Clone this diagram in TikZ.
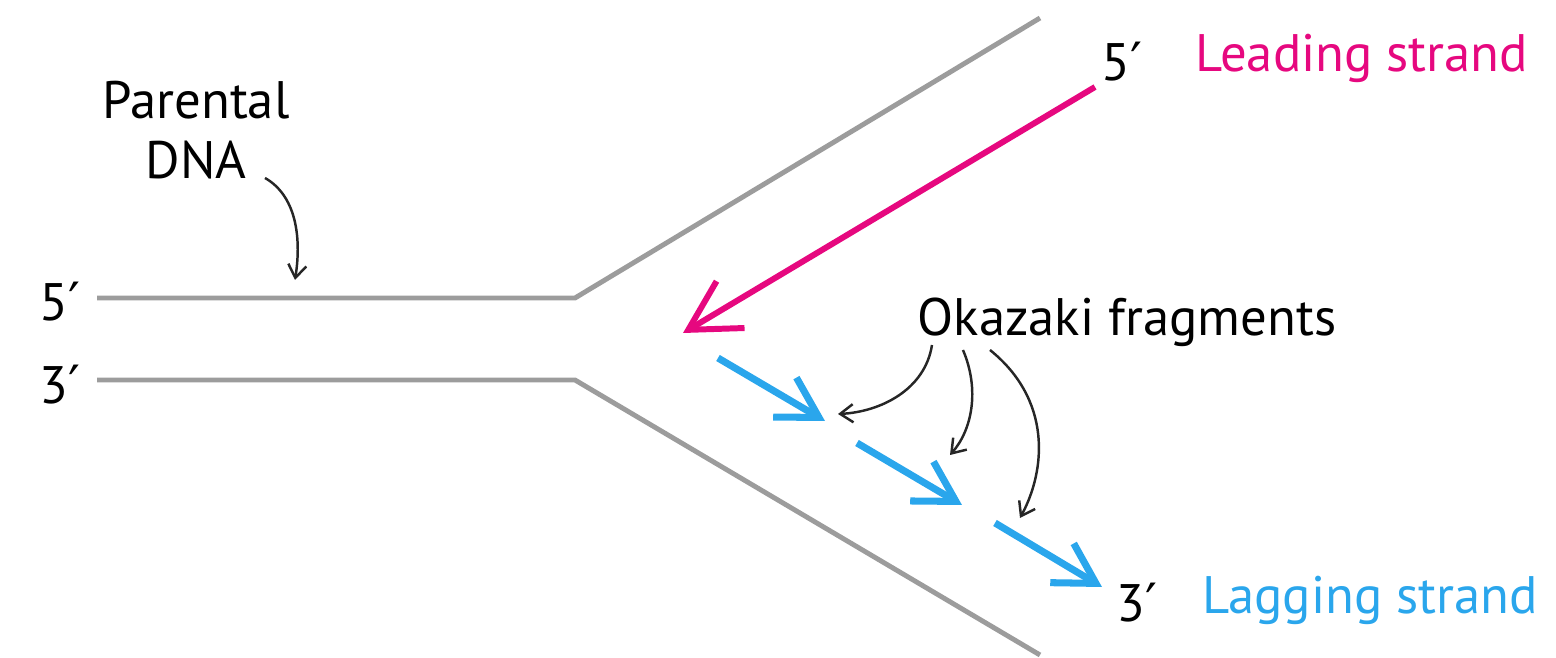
\documentclass[tikz,border=0pt]{standalone}
\usepackage{fontspec}
\setmainfont{PT Sans}
\newfontfamily\primefont{DejaVu Sans}
\newcommand{\prm}{{\primefont ′}}
\usetikzlibrary{arrows.meta}
\definecolor{strandgray}{HTML}{9C9C9C}
\definecolor{leadpink}{HTML}{E6087F}
\definecolor{lagblue}{HTML}{2AA6EC}
\tikzset{
  lbl/.style={inner sep=0pt, font=\fontsize{15pt}{17pt}\selectfont},
  strand/.style={draw=strandgray, line width=1.4pt},
  leadarrow/.style={draw=leadpink, line width=1.7pt, -{Straight Barb[angle=58:16pt]}},
  lagarrow/.style={draw=lagblue, line width=2pt, -{Straight Barb[angle=60:13pt]}},
  pointer/.style={draw=black!85, line width=0.7pt, -{Straight Barb[angle=70:4.5pt]}},
}
\begin{document}
\begin{tikzpicture}[x=0.01cm, y=-0.01cm]
  \useasboundingbox (0,0) rectangle (1556,658);

  % parental duplex opening into the fork
  \coordinate (t0) at (97,298);
  \coordinate (t1) at (575,298);
  \coordinate (t2) at (1040,18);
  \coordinate (b0) at (97,380);
  \coordinate (b1) at (575,380);
  \coordinate (b2) at (1040,655);
  \draw[strand] (t0) -- (t1) -- (t2);
  \draw[strand] (b0) -- (b1) -- (b2);

  % labels
  \node[lbl] (fiveL) at (60,302) {5\prm};
  \node[lbl] (threeL) at (60,385) {3\prm};
  \node[lbl, align=center] (parental) at (196,130) {Parental\\DNA};
  \node[lbl] (fiveR) at (1122,62) {5\prm};
  \node[lbl, text=leadpink] (leading) at (1362,58) {Leading strand};
  \node[lbl] (okazaki) at (1127,322) {Okazaki fragments};
  \node[lbl] (threeR) at (1137,603) {3\prm};
  \node[lbl, text=lagblue] (lagging) at (1370,600) {Lagging strand};

  % leading strand
  \coordinate (lead0) at (1095,87);
  \coordinate (lead1) at (683,333);
  \draw[leadarrow] (lead0) -- (lead1);

  % lagging strand fragments
  \coordinate (f1a) at (718,358);
  \coordinate (f1b) at (825,421);
  \coordinate (f2a) at (857,443);
  \coordinate (f2b) at (962,505);
  \coordinate (f3a) at (995,523);
  \coordinate (f3b) at (1102,587);
  \draw[lagarrow] (f1a) -- (f1b);
  \draw[lagarrow] (f2a) -- (f2b);
  \draw[lagarrow] (f3a) -- (f3b);

  % pointers
  \coordinate (pDNA) at (295,280);
  \draw[pointer] (265,178) .. controls (295,195) and (302,235) .. (pDNA);
  \coordinate (p1) at (838,414);
  \coordinate (p2) at (950,455);
  \coordinate (p3) at (1020,518);
  \draw[pointer] (932,345) .. controls (925,390) and (880,412) .. (p1);
  \draw[pointer] (963,350) .. controls (980,390) and (972,430) .. (p2);
  \draw[pointer] (990,350) .. controls (1052,400) and (1046,470) .. (p3);
\end{tikzpicture}
\end{document}
